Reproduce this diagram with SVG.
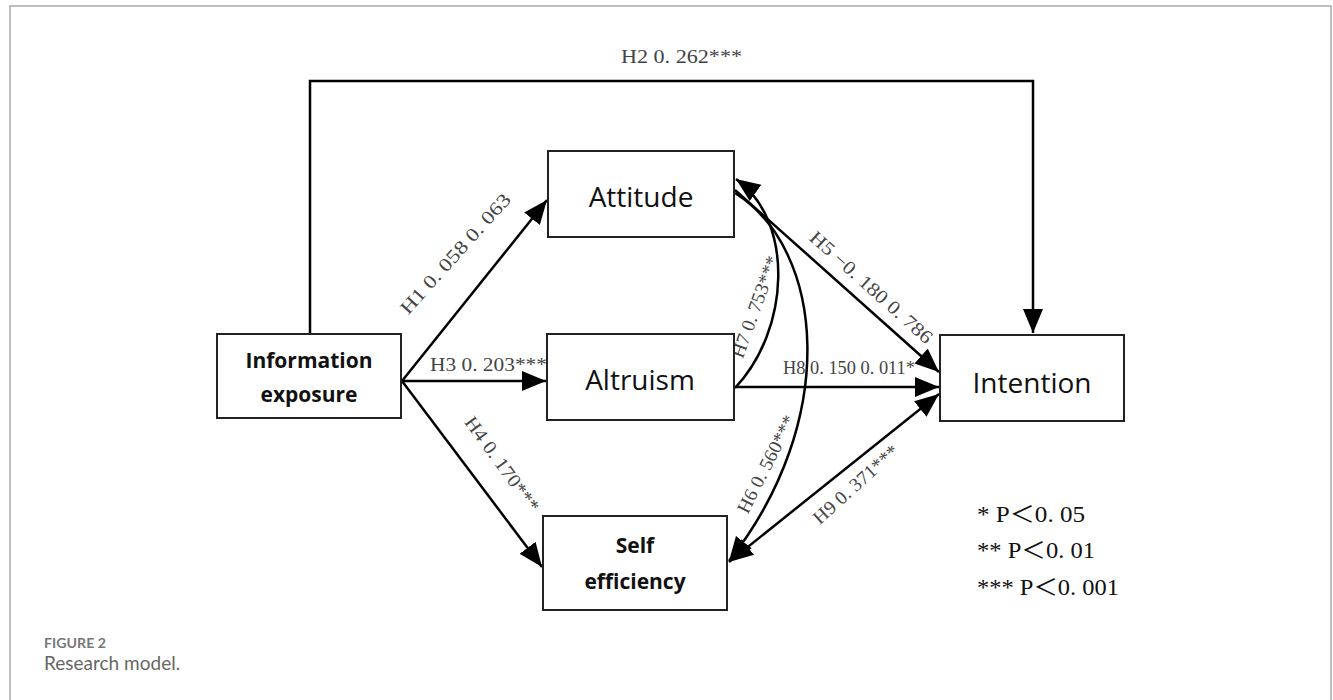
<svg xmlns="http://www.w3.org/2000/svg" width="1333" height="700" viewBox="0 0 1333 700">
<style>
.box{fill:#fff;stroke:#222;stroke-width:2}
.node{font-family:"Open Sans","Noto Sans",sans-serif;fill:#111;text-anchor:middle}
.nb{font-weight:bold;font-size:21px}
.nr{font-size:28px}
.lbl{font-family:"Liberation Serif","Noto Sans CJK SC",serif;font-size:19px;fill:#444}
.leg{font-family:"Liberation Serif","Noto Sans CJK SC",serif;font-size:23px;fill:#111}
.ln{fill:none;stroke:#000;stroke-width:2.5}
</style>
<defs>
<marker id="ah" markerUnits="userSpaceOnUse" markerWidth="26" markerHeight="22" refX="24" refY="10" orient="auto-start-reverse" viewBox="0 0 26 22">
<path d="M0,0 L24,10 L0,20 z" fill="#000"/>
</marker>
</defs>
<rect x="0" y="0" width="1333" height="700" fill="#fff"/>
<path d="M10,700 V6 H1331 V700" fill="none" stroke="#aaa" stroke-width="1.5"/>
<g id="connectors">
<path class="ln" d="M310,334 V81 H1033 V333" marker-end="url(#ah)"/>
<path class="ln" d="M402,381 L547,200" marker-end="url(#ah)"/>
<path class="ln" d="M402,381 L546,381" marker-end="url(#ah)"/>
<path class="ln" d="M402,381 L542,567" marker-end="url(#ah)"/>
<path class="ln" d="M735,190 L939,372" marker-end="url(#ah)"/>
<path class="ln" d="M734,387 L939,387" marker-end="url(#ah)"/>
<path class="ln" d="M729,562 L939,394" marker-start="url(#ah)" marker-end="url(#ah)"/>
<path class="ln" d="M735,388 C790,330 795,221 736,179" marker-end="url(#ah)"/>
<path class="ln" d="M735,193 C825,250 840,420 729,561" marker-end="url(#ah)"/>
<text class="lbl" transform="translate(460,258) rotate(-48)" text-anchor="middle" textLength="155" lengthAdjust="spacingAndGlyphs">H1 0. 058 0. 063</text>
<text class="lbl" x="430" y="371" textLength="117" lengthAdjust="spacingAndGlyphs">H3 0. 203***</text>
<text class="lbl" transform="translate(497,468) rotate(54)" text-anchor="middle" textLength="113" lengthAdjust="spacingAndGlyphs">H4 0. 170***</text>
<text class="lbl" transform="translate(867,292) rotate(42)" text-anchor="middle" textLength="158" lengthAdjust="spacingAndGlyphs">H5 −0. 180 0. 786</text>
<text class="lbl" transform="translate(761,309) rotate(-70)" text-anchor="middle" textLength="107" lengthAdjust="spacingAndGlyphs">H7 0. 753***</text>
<text class="lbl" x="783" y="374" textLength="132" lengthAdjust="spacingAndGlyphs">H8 0. 150 0. 011*</text>
<text class="lbl" transform="translate(772,467) rotate(-63)" text-anchor="middle" textLength="107" lengthAdjust="spacingAndGlyphs">H6 0. 560***</text>
<text class="lbl" transform="translate(860,489) rotate(-42)" text-anchor="middle" textLength="108" lengthAdjust="spacingAndGlyphs">H9 0. 371***</text>
<text class="lbl" x="621" y="63" textLength="121" lengthAdjust="spacingAndGlyphs">H2 0. 262***</text>
</g>
<g id="info">
<rect class="box" x="217" y="334" width="184" height="84"/>
<text class="node nb" x="309" y="368">Information</text>
<text class="node nb" x="309" y="402">exposure</text>
</g>
<g id="attitude">
<rect class="box" x="548" y="151" width="186" height="86"/>
<text class="node nr" x="641" y="207">Attitude</text>
</g>
<g id="altruism">
<rect class="box" x="547" y="334" width="187" height="86"/>
<text class="node nr" x="640" y="390">Altruism</text>
</g>
<g id="self">
<rect class="box" x="543" y="516" width="184" height="94"/>
<text class="node nb" x="635" y="553">Self</text>
<text class="node nb" x="635" y="589">efficiency</text>
</g>
<g id="intention">
<rect class="box" x="940" y="335" width="184" height="86"/>
<text class="node nr" x="1032" y="393">Intention</text>
</g>
<g id="legend">
<text class="leg" x="977" y="522" textLength="108" lengthAdjust="spacingAndGlyphs">* P＜0. 05</text>
<text class="leg" x="977" y="558" textLength="118" lengthAdjust="spacingAndGlyphs">** P＜0. 01</text>
<text class="leg" x="977" y="595" textLength="142" lengthAdjust="spacingAndGlyphs">*** P＜0. 001</text>
</g>
<g id="caption">
<text x="44" y="648" font-family="Lato,'Open Sans',sans-serif" font-size="14" font-weight="bold" fill="#777" textLength="62" lengthAdjust="spacingAndGlyphs">FIGURE 2</text>
<text x="44" y="670" font-family="Lato,'Open Sans',sans-serif" font-size="19" fill="#666">Research model.</text>
</g>
</svg>
